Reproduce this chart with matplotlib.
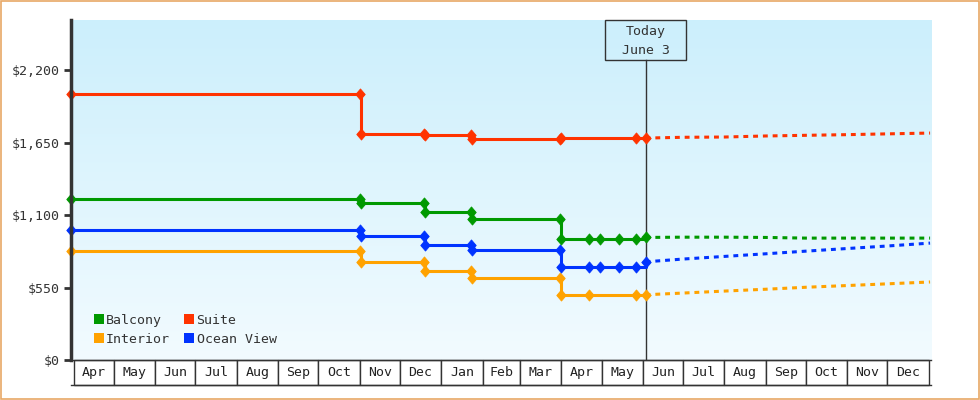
import numpy as np
import matplotlib
matplotlib.use('Agg')
import matplotlib.pyplot as plt
from matplotlib.patches import Rectangle
from matplotlib.lines import Line2D
from matplotlib.path import Path
import matplotlib.transforms as mtransforms

# ---------------- data ----------------
balcony_dates = ['2014-03-30', '2014-11-01', '2014-11-02', '2014-12-19', '2014-12-20',
                 '2015-01-23', '2015-01-24', '2015-03-31', '2015-04-01', '2015-04-22',
                 '2015-04-30', '2015-05-14', '2015-05-27', '2015-06-03']
balcony_prices = [1222, 1222, 1193, 1193, 1124, 1124, 1070, 1070, 920, 920, 920, 920, 920, 930]

ocean_dates = ['2014-03-30', '2014-11-01', '2014-11-02', '2014-12-19', '2014-12-20',
               '2015-01-23', '2015-01-24', '2015-03-31', '2015-04-01', '2015-04-22',
               '2015-04-30', '2015-05-14', '2015-05-27', '2015-06-03']
ocean_prices = [986, 986, 941, 941, 872, 872, 835, 835, 703, 703, 703, 703, 703, 745]

interior_dates = ['2014-03-30', '2014-11-01', '2014-11-02', '2014-12-19', '2014-12-20',
                  '2015-01-23', '2015-01-24', '2015-03-31', '2015-04-01', '2015-04-22',
                  '2015-05-27', '2015-06-03']
interior_prices = [828, 828, 743, 743, 675, 675, 623, 623, 490, 490, 490, 495]

suite_dates = ['2014-03-30', '2014-11-01', '2014-11-02', '2014-12-19', '2014-12-20',
               '2015-01-23', '2015-01-24', '2015-03-31', '2015-04-01', '2015-05-27',
               '2015-06-03']
suite_prices = [2018, 2018, 1714, 1714, 1707, 1707, 1677, 1677, 1684, 1684, 1684]

# forecast (dashed) series
proj_dates = ['2015-06-03', '2015-07-01', '2015-08-01', '2015-09-01', '2015-10-01',
              '2015-11-01', '2015-12-01', '2016-01-02']
balcony_proj = [930, 932, 932, 930, 925, 925, 925, 925]
ocean_proj = [745, 766, 786, 806, 826, 846, 865, 887]
interior_proj = [495, 508, 523, 537, 552, 565, 578, 592]
suite_proj = [1684, 1690, 1692, 1700, 1705, 1710, 1716, 1722]

month_labels = ['Apr', 'May', 'Jun', 'Jul', 'Aug', 'Sep', 'Oct', 'Nov', 'Dec',
                'Jan', 'Feb', 'Mar', 'Apr', 'May', 'Jun', 'Jul', 'Aug', 'Sep',
                'Oct', 'Nov', 'Dec']
first_month = '2014-04'
today_date = '2015-06-03'
today_text = 'Today\nJune 3'

ytick_values = [0, 550, 1100, 1650, 2200]
ytick_labels = ['$0', '$550', '$1,100', '$1,650', '$2,200']

legend_order = ['Balcony', 'Interior', 'Suite', 'Ocean View']
colors = {'Balcony': '#009900', 'Interior': '#ffa200',
          'Suite': '#ff3300', 'Ocean View': '#0033ff'}

# ---------------- helpers ----------------
ORIGIN = np.datetime64('2014-04-01')


def days(d):
    return (np.array(d, dtype='datetime64[D]') - ORIGIN).astype(float)


plt.rcParams['font.family'] = ['DejaVu Sans Mono']
plt.rcParams['font.size'] = 9.5
TXT = '#333333'

fig = plt.figure(figsize=(9.8, 4.0), dpi=100)
fig.patch.set_facecolor('white')
ax = fig.add_axes([71 / 980, 40 / 400, 860 / 980, 340 / 400])

# gradient background
grad = np.linspace(0, 1, 256)[:, None]
top = np.array([204, 239, 252]) / 255
bot = np.array([242, 251, 255]) / 255
img = top[None, None, :] * (1 - grad[:, :, None]) + bot[None, None, :] * grad[:, :, None]
ax.imshow(img, extent=[0, 1, 0, 1], transform=ax.transAxes, aspect='auto', zorder=0)

ax.set_xlim(-2.2, 641.7)
ax.set_ylim(0, 2580)

diamond = Path([(0, 1), (0.85, 0), (0, -1), (-0.85, 0), (0, 1)],
               [Path.MOVETO, Path.LINETO, Path.LINETO, Path.LINETO, Path.CLOSEPOLY])

hist = {'Balcony': (balcony_dates, balcony_prices),
        'Interior': (interior_dates, interior_prices),
        'Suite': (suite_dates, suite_prices),
        'Ocean View': (ocean_dates, ocean_prices)}
proj = {'Balcony': balcony_proj, 'Interior': interior_proj,
        'Suite': suite_proj, 'Ocean View': ocean_proj}

for name in ['Interior', 'Ocean View', 'Balcony', 'Suite']:
    d, p = hist[name]
    c = colors[name]
    ax.plot(days(d), p, drawstyle='steps-post', color=c, lw=2.2, zorder=3,
            solid_capstyle='butt', clip_on=False)
    ax.plot(days(d), p, ls='none', marker=diamond, markersize=8, color=c,
            markeredgewidth=0.6, markeredgecolor=c, zorder=4, clip_on=False)
    ax.plot(days(proj_dates), proj[name], color=c, lw=2.2, ls=(0, (1.6, 1.6)),
            zorder=3, dash_capstyle='butt')

# axes styling
for s in ['top', 'right']:
    ax.spines[s].set_visible(False)
ax.spines['left'].set_linewidth(2.5)
ax.spines['left'].set_color(TXT)
ax.spines['left'].set_zorder(5)
ax.spines['bottom'].set_linewidth(1)
ax.spines['bottom'].set_color(TXT)
ax.set_xticks([])
ax.set_yticks(ytick_values)
ax.set_yticklabels(ytick_labels)
ax.tick_params(axis='y', direction='out', length=5, width=2, color=TXT,
               pad=3, labelcolor=TXT)

# month boxes below the axis
blend = mtransforms.blended_transform_factory(ax.transData, ax.transAxes)
box_h = 25 / 340
months = np.arange(np.datetime64(first_month), np.datetime64(first_month) + len(month_labels) + 1,
                   dtype='datetime64[M]')
mstarts = days(months.astype('datetime64[D]'))
for i, lab in enumerate(month_labels):
    x0, x1 = mstarts[i], mstarts[i + 1]
    ax.add_patch(Rectangle((x0, -box_h), x1 - x0, box_h, transform=blend,
                           facecolor='white', edgecolor=TXT, lw=1, clip_on=False, zorder=2))
    ax.text((x0 + x1) / 2, -box_h / 2, lab, transform=blend, ha='center', va='center',
            color='#222222', fontsize=9.5, clip_on=False)
ax.plot([0, 1], [-box_h, -box_h], transform=ax.transAxes, color=TXT, lw=1, clip_on=False)

# today marker
t = days(today_date)
ax.plot([t, t], [0, 300 / 340], transform=blend, color=TXT, lw=1, zorder=2)
ax.add_patch(Rectangle((t - 30.1, 300 / 340), 60.2, 40 / 340, transform=blend,
                       fill=False, edgecolor=TXT, lw=1, zorder=2, clip_on=False))
l1, l2 = today_text.split('\n')
ax.text(t, (360 - 32) / 340, l1, transform=blend, ha='center', va='center', color=TXT)
ax.text(t, (360 - 50) / 340, l2, transform=blend, ha='center', va='center', color=TXT)

# legend
handles = [Line2D([], [], ls='none', marker='s', markersize=7.5, color=colors[n],
                  markeredgewidth=0) for n in legend_order]
leg = ax.legend(handles, legend_order, ncol=2, loc='lower left',
                bbox_to_anchor=(0.021, 0.03), frameon=False, handlelength=0.9,
                handletextpad=0.1, columnspacing=1.0, labelspacing=0.45,
                borderaxespad=0, borderpad=0.3)
for txt in leg.get_texts():
    txt.set_color(TXT)

# outer border
fig.add_artist(Rectangle((0.6 / 980, 0.6 / 400), 1 - 1.2 / 980, 1 - 1.2 / 400,
                         transform=fig.transFigure, fill=False, edgecolor='#e8a866', lw=1.2))

fig.savefig('out.png', dpi=100)
